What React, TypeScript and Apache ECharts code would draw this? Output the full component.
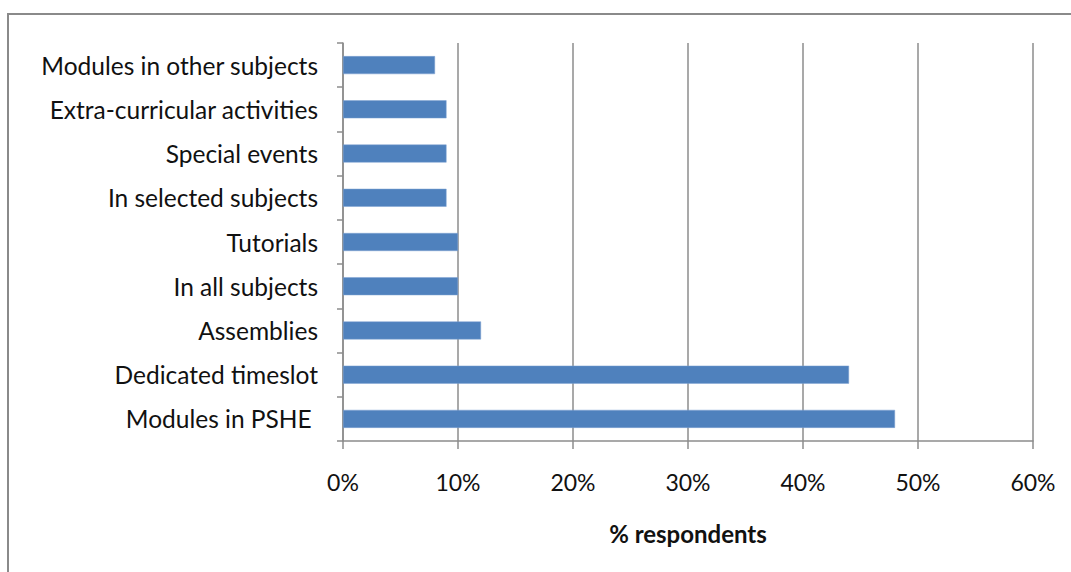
import React, { useEffect, useRef } from "react";
import * as echarts from "echarts";

const categories = [
  "Modules in PSHE ",
  "Dedicated timeslot",
  "Assemblies",
  "In all subjects",
  "Tutorials",
  "In selected subjects",
  "Special events",
  "Extra-curricular activities",
  "Modules in other subjects",
];
const values = [48, 44, 12, 10, 10, 9, 9, 9, 8];
const axisName = "% respondents";

const FONT = "Lato, 'Noto Sans', sans-serif";

export default function App() {
  const ref = useRef<HTMLDivElement>(null);
  useEffect(() => {
    if (!ref.current) return;
    const chart = echarts.init(ref.current, null, { renderer: "svg" });
    chart.setOption({
      animation: false,
      backgroundColor: "#ffffff",
      graphic: [
        {
          type: "rect",
          shape: { x: 8, y: 14, width: 1200, height: 700 },
          style: { fill: "none", stroke: "#8a8a8a", lineWidth: 2 },
          silent: true,
        },
      ],
      grid: { left: 343, top: 43, right: 38, bottom: 131, containLabel: false },
      xAxis: {
        type: "value",
        min: 0,
        max: 60,
        interval: 10,
        name: axisName,
        nameLocation: "middle",
        nameGap: 80,
        nameTextStyle: { fontFamily: FONT, fontSize: 24, fontWeight: "bold", color: "#111" },
        axisLine: { show: true, lineStyle: { color: "#8c8c8c", width: 1.5 } },
        axisTick: { show: true, length: 8, lineStyle: { color: "#8c8c8c", width: 1.5 } },
        axisLabel: {
          formatter: "{value}%",
          fontFamily: FONT,
          fontSize: 23,
          color: "#111",
          margin: 29,
        },
        splitLine: { show: true, lineStyle: { color: "#8c8c8c", width: 1.5 } },
      },
      yAxis: {
        type: "category",
        data: categories,
        axisLine: { show: true, lineStyle: { color: "#8c8c8c", width: 1.5 } },
        axisTick: { show: true, length: 6, inside: false, lineStyle: { color: "#8c8c8c", width: 1.5 } },
        axisLabel: { fontFamily: FONT, fontSize: 24.5, color: "#111", margin: 25 },
      },
      series: [
        {
          type: "bar",
          data: values,
          barWidth: 18,
          itemStyle: { color: "#4F81BD", borderColor: "#7fa3d3", borderWidth: 0.5 },
        },
      ],
    });
    return () => chart.dispose();
  }, []);
  return (
    <div
      ref={ref}
      style={{ position: "fixed", left: 0, top: 0, width: 1071, height: 572, background: "#fff" }}
    />
  );
}
